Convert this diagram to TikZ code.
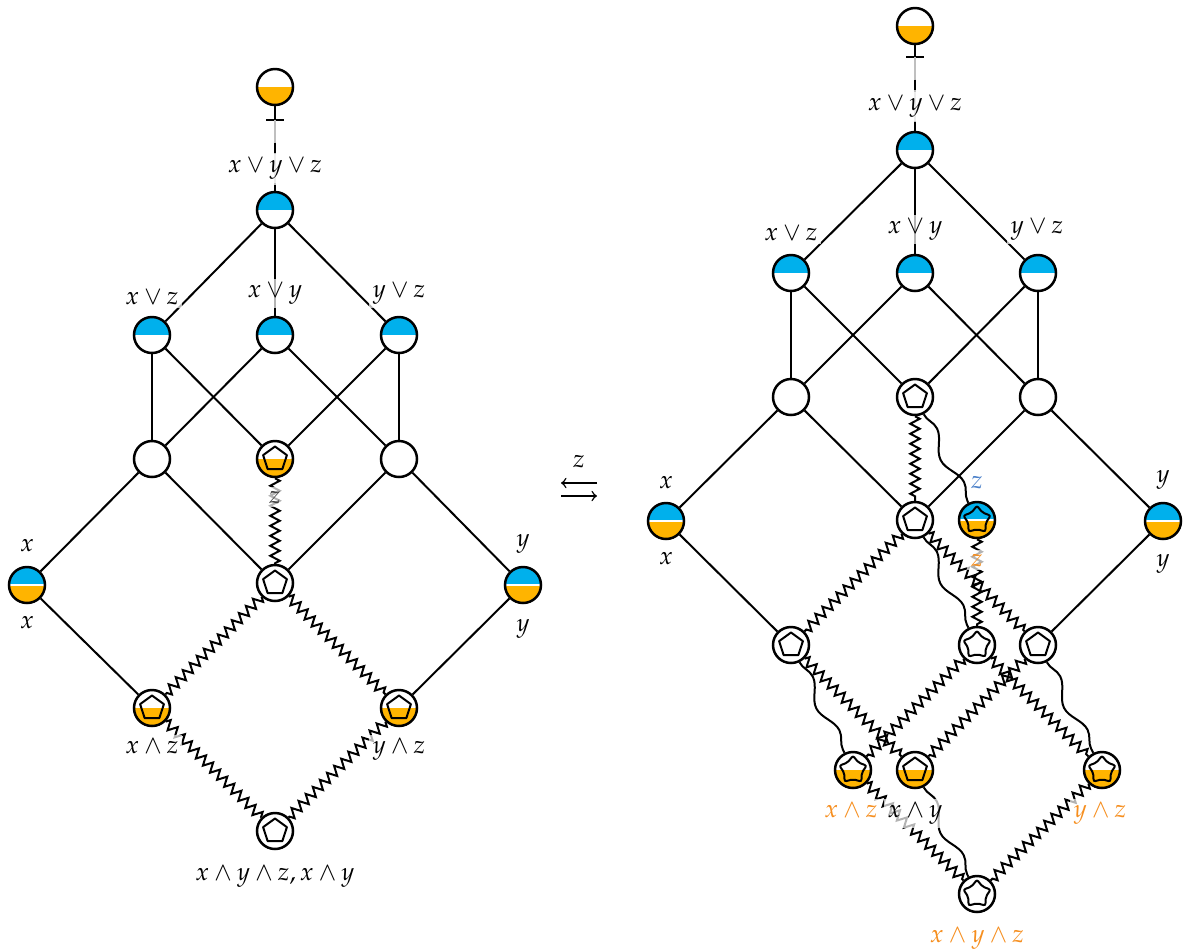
\documentclass[tikz,border=0pt]{standalone}
\usepackage{amssymb}
\usepackage{mathpazo}
\usepackage{tikz}
\usetikzlibrary{decorations.pathmorphing,arrows.meta}

\definecolor{cblue}{RGB}{0,176,236}
\definecolor{corange}{RGB}{255,180,0}
\definecolor{lorange}{RGB}{246,142,30}
\definecolor{lblue}{RGB}{72,126,200}

% fillings for the circles
\newcommand\fillTop{\fill[cblue] (path picture bounding box.north west) rectangle (path picture bounding box.east);}
\newcommand\fillBot{\fill[corange] (path picture bounding box.west) rectangle (path picture bounding box.south east);}
\newcommand\splitLine{\draw[white,line width=0.5pt] (path picture bounding box.west) -- (path picture bounding box.east);}
\newcommand\pentMark{\draw[line width=0.8pt,line join=round] (path picture bounding box.center)
    +(90:5pt) -- +(162:5pt) -- +(234:5pt) -- +(306:5pt) -- +(18:5pt) -- cycle;}
\newcommand\starMark{\draw[line width=0.8pt,rounded corners=0.8pt] (path picture bounding box.center)
    +(90:5.7pt) \foreach \k/\r in {1/3.7pt,2/5.7pt,3/3.7pt,4/5.7pt,5/3.7pt,6/5.7pt,7/3.7pt,8/5.7pt,9/3.7pt}{ -- +({90+36*\k}:\r) } -- cycle;}

\begin{document}
\begin{tikzpicture}[x=0.4pt,y=-0.4pt,
    vtx/.style={circle,draw,line width=1pt,minimum size=14.4pt,inner sep=0pt,fill=white},
    hb/.style={vtx,path picture={\fillTop}},
    ho/.style={vtx,path picture={\fillBot}},
    hbo/.style={vtx,path picture={\fillTop\fillBot\splitLine}},
    pent/.style={vtx,path picture={\pentMark}},
    pento/.style={vtx,path picture={\fillBot\pentMark}},
    strw/.style={vtx,path picture={\starMark}},
    stro/.style={vtx,path picture={\fillBot\starMark}},
    strbo/.style={vtx,path picture={\fillTop\fillBot\splitLine\starMark}},
    ln/.style={line width=0.8pt},
    topln/.style={ln,dash pattern=on 0pt off 9pt on 4pt off 13pt on 6pt},
    zz/.style={ln,decorate,decoration={zigzag,segment length=4pt,amplitude=1.9pt}},
    sn/.style={ln,decorate,decoration={snake,segment length=24pt,amplitude=2.2pt}},
    lbl/.style={anchor=base,fill=white,fill opacity=0.7,text opacity=1,inner sep=1.5pt}]
\useasboundingbox (0,0) rectangle (1188,949);

% ---------- left lattice ----------
\node[ho] (lt) at (275,87) {};
\node[hb] (la) at (275,210) {};
\node[hb] (lxz) at (152,335) {};
\node[hb] (lxy) at (275,335) {};
\node[hb] (lyz) at (399,335) {};
\node[vtx] (lp) at (152,459) {};
\node[pento] (lq) at (275,459) {};
\node[vtx] (lr) at (399,459) {};
\node[hbo] (lx) at (27,585) {};
\node[pent] (lm) at (275,583) {};
\node[hbo] (ly) at (523,585) {};
\node[pento] (lxaz) at (152,708) {};
\node[pento] (lyaz) at (399,708) {};
\node[pent] (lb) at (275,831) {};
\coordinate (lbar) at (275,120);

% top edge
\draw[ln] (lt) -- (lbar);
\draw[ln] ([xshift=-3.6pt]lbar) -- ([xshift=3.6pt]lbar);
\draw[ln,black!25] (lbar) -- (la);
\draw[topln] (lbar) -- (la);
% order edges
\draw[ln] (la) -- (lxz);
\draw[ln] (la) -- (lxy);
\draw[ln] (la) -- (lyz);
\draw[ln] (lxz) -- (lp);
\draw[ln] (lxz) -- (lq);
\draw[ln] (lxy) -- (lp);
\draw[ln] (lxy) -- (lr);
\draw[ln] (lyz) -- (lq);
\draw[ln] (lyz) -- (lr);
\draw[ln] (lp) -- (lx);
\draw[ln] (lp) -- (lm);
\draw[ln] (lr) -- (lm);
\draw[ln] (lr) -- (ly);
\draw[ln] (lx) -- (lxaz);
\draw[ln] (ly) -- (lyaz);
% zigzag edges
\draw[zz] (lq) -- (lm);
\draw[zz] (lm) -- (lxaz);
\draw[zz] (lm) -- (lyaz);
\draw[zz] (lxaz) -- (lb);
\draw[zz] (lyaz) -- (lb);

% Text Node
\node[lbl] (tlxyz) at (275,172) {$x\vee y\vee z$};
\node[lbl] (tlxz) at (152,304) {$x\vee z$};
\node[lbl] (tlxy) at (275,297) {$x\vee y$};
\node[lbl] (tlyz) at (399,297) {$y\vee z$};
\node[lbl] (tlx1) at (27,551) {$x$};
\node[lbl] (tlx2) at (27,628) {$x$};
\node[lbl] (tly1) at (523,546) {$y$};
\node[lbl] (tly2) at (523,631) {$y$};
\node[lbl,text=black!75] (tlz) at (275,503) {$z$};
\node[lbl] (tlxaz) at (152,753) {$x\wedge z$};
\node[lbl] (tlyaz) at (399,753) {$y\wedge z$};
\node[lbl] (tlb) at (275,880) {$x\wedge y\wedge z, x\wedge y$};

% ---------- switch ----------
\node[anchor=base,inner sep=0pt] (sz) at (579,467) {$z$};
\coordinate (sa1) at (561,483);
\coordinate (sa2) at (597,483);
\coordinate (sb1) at (561,496);
\coordinate (sb2) at (597,496);
\draw[line width=0.6pt,-to] (sa2) -- (sa1);
\draw[line width=0.6pt,-to] (sb1) -- (sb2);

% ---------- right lattice ----------
\node[ho] (rt) at (915,26) {};
\node[hb] (ra) at (915,150) {};
\node[hb] (rxz) at (791,273) {};
\node[hb] (rxy) at (915,273) {};
\node[hb] (ryz) at (1038,273) {};
\node[vtx] (rp) at (791,397) {};
\node[pent] (rq) at (915,397) {};
\node[vtx] (rr) at (1038,397) {};
\node[hbo] (rx) at (666,521) {};
\node[pent] (rm) at (915,520) {};
\node[strbo] (rs) at (977,520) {};
\node[hbo] (ry) at (1163,521) {};
\node[pent] (ru) at (791,645) {};
\node[strw] (rv) at (977,645) {};
\node[pent] (rw) at (1038,645) {};
\node[stro] (rxaz) at (853,770) {};
\node[pento] (rxay) at (915,770) {};
\node[stro] (ryaz) at (1102,770) {};
\node[strw] (rb) at (977,894) {};
\coordinate (rbar) at (915,57);

% top edge
\draw[ln] (rt) -- (rbar);
\draw[ln] ([xshift=-3.6pt]rbar) -- ([xshift=3.6pt]rbar);
\draw[ln,black!25] (rbar) -- (ra);
\draw[topln] (rbar) -- (ra);
% order edges
\draw[ln] (ra) -- (rxz);
\draw[ln] (ra) -- (rxy);
\draw[ln] (ra) -- (ryz);
\draw[ln] (rxz) -- (rp);
\draw[ln] (rxz) -- (rq);
\draw[ln] (rxy) -- (rp);
\draw[ln] (rxy) -- (rr);
\draw[ln] (ryz) -- (rq);
\draw[ln] (ryz) -- (rr);
\draw[ln] (rp) -- (rx);
\draw[ln] (rp) -- (rm);
\draw[ln] (rr) -- (rm);
\draw[ln] (rr) -- (ry);
\draw[ln] (rx) -- (ru);
\draw[ln] (ry) -- (rw);
% zigzag edges
\draw[zz] (rq) -- (rm);
\draw[zz] (rm) -- (ru);
\draw[zz] (rm) -- (rw);
\draw[zz] (rs) -- (rv);
\draw[zz] (ru) -- (rxay);
\draw[zz] (rv) -- (rxaz);
\draw[zz] (rv) -- (ryaz);
\draw[zz] (rw) -- (rxay);
\draw[zz] (rxaz) -- (rb);
\draw[zz] (ryaz) -- (rb);
% snake edges
\draw[sn] (rq) -- (rs);
\draw[sn] (rm) -- (rv);
\draw[sn] (ru) -- (rxaz);
\draw[sn] (rw) -- (ryaz);
\draw[sn] (rxay) -- (rb);

% Text Node
\node[lbl] (trxyz) at (915,110) {$x\vee y\vee z$};
\node[lbl] (trxz) at (791,240) {$x\vee z$};
\node[lbl] (trxy) at (915,233) {$x\vee y$};
\node[lbl] (tryz) at (1037,233) {$y\vee z$};
\node[lbl] (trx1) at (666,488) {$x$};
\node[lbl] (trx2) at (666,564) {$x$};
\node[lbl] (try1) at (1163,482) {$y$};
\node[lbl] (try2) at (1163,566) {$y$};
\node[lbl,text=lblue] (trz1) at (977,488) {$z$};
\node[lbl,text=lorange] (trz2) at (977,566) {$z$};
\node[lbl,text=lorange] (trxaz) at (851,817) {$x\wedge z$};
\node[lbl] (trxay) at (915,817) {$x\wedge y$};
\node[lbl,text=lorange] (tryaz) at (1100,817) {$y\wedge z$};
\node[lbl,text=lorange] (trb) at (977,942) {$x\wedge y\wedge z$};
\end{tikzpicture}
\end{document}
